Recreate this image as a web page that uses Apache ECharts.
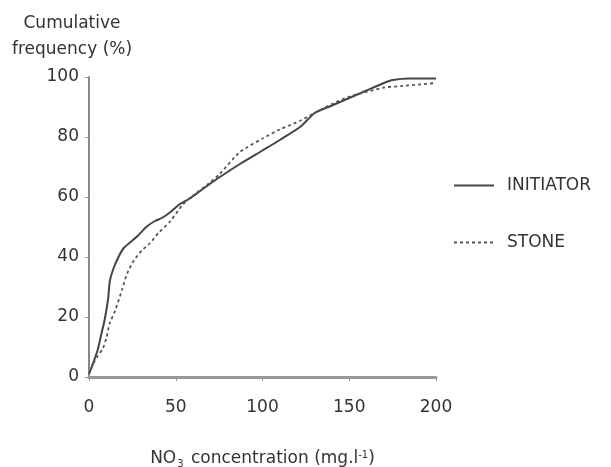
<!DOCTYPE html>
<html>
<head>
<meta charset="utf-8">
<script src="https://cdn.jsdelivr.net/npm/echarts@6/dist/echarts.min.js"></script>
<style>html,body{margin:0;padding:0;background:#fff;}#c{width:611px;height:467px;}</style>
</head>
<body>
<div id="c"></div>
<script>
const seriesNames = ['INITIATOR', 'STONE'];
const xTicks = [0, 50, 100, 150, 200];
const yTicks = [0, 20, 40, 60, 80, 100];
const initiatorX = [0, 2, 5, 7, 9, 11, 12, 14, 17, 20, 24, 28, 33, 38, 42, 47, 52, 58, 64, 70, 75, 87, 100, 110, 122, 130, 140, 150, 160, 170, 175, 185, 200];
const initiatorY = [1, 4, 9, 14, 19, 26, 32, 36, 40, 43, 45, 47, 50, 52, 53, 55, 57.5, 59.5, 62, 64.5, 66.5, 71, 75.5, 79, 83.5, 88, 90.5, 93, 95.5, 98, 99, 99.5, 99.5];
const stoneX = [0, 2.5, 5, 8, 10, 12, 15, 19, 22, 26, 31, 35, 40, 47, 54, 60, 68, 75, 87, 100, 110, 122, 130, 140, 150, 160, 170, 180, 190, 200];
const stoneY = [1, 4.5, 7, 9.5, 13, 18, 22, 29, 34.5, 39, 42.5, 44.5, 48, 52, 57.5, 60.5, 64, 67.5, 75, 79.5, 82.5, 85.5, 88, 91, 93.5, 95, 96.5, 97, 97.5, 98];

const zip = (xs, ys) => xs.map((x, i) => [x, ys[i]]);
const font = 'DejaVu Sans';
const txt = '#333';
const chart = echarts.init(document.getElementById('c'), null, {renderer: 'canvas'});
chart.setOption({
  animation: false,
  backgroundColor: '#fff',
  grid: {left: 89, right: 175, top: 77, bottom: 90, containLabel: false, outerBoundsMode: 'none'},
  legend: {
    orient: 'vertical', left: 448, top: 172, itemWidth: 40, itemHeight: 14, itemGap: 40,
    itemStyle: {opacity: 0},
    textStyle: {fontFamily: font, fontSize: 17, color: txt, padding: [0, 0, 0, 8]},
    data: seriesNames
  },
  xAxis: {
    type: 'value', min: xTicks[0], max: xTicks[xTicks.length - 1], interval: 50,
    name: '{n|NO}{sub|3}{n| concentration (mg.l}{sup|-1}{n|)}',
    nameLocation: 'middle', nameGap: 72,
    nameTextStyle: {
      rich: {
        n: {fontFamily: font, fontSize: 17, color: txt},
        sub: {fontFamily: font, fontSize: 10, color: txt, padding: [10, 2, 0, 1]},
        sup: {fontFamily: font, fontSize: 10, color: txt, padding: [0, 0, 8, 0]}
      }
    },
    axisLine: {show: true, lineStyle: {color: '#999', width: 3}},
    axisTick: {show: true, inside: false, length: 4, lineStyle: {color: '#999', width: 1}},
    axisLabel: {margin: 22, fontFamily: font, fontSize: 17, color: txt},
    splitLine: {show: false}
  },
  yAxis: {
    type: 'value', min: yTicks[0], max: yTicks[yTicks.length - 1], interval: 20,
    name: 'Cumulative\nfrequency (%)', nameLocation: 'end', nameGap: 14,
    nameTextStyle: {fontFamily: font, fontSize: 17, color: txt, lineHeight: 26, align: 'center', padding: [0, 34, 0, 0]},
    axisLine: {show: true, lineStyle: {color: '#888', width: 2}},
    axisTick: {show: true, inside: false, length: 4, lineStyle: {color: '#999', width: 1}},
    axisLabel: {margin: 10, fontFamily: font, fontSize: 17, color: txt},
    splitLine: {show: false}
  },
  series: [
    {name: seriesNames[0], type: 'line', data: zip(initiatorX, initiatorY), showSymbol: false, symbol: 'none', smooth: 0.2,
     lineStyle: {color: '#444', width: 2, type: 'solid'}, itemStyle: {color: '#444'}},
    {name: seriesNames[1], type: 'line', data: zip(stoneX, stoneY), showSymbol: false, symbol: 'none', smooth: 0.2,
     lineStyle: {color: '#555', width: 1.8, type: [3, 3]}, itemStyle: {color: '#555'}}
  ]
});
</script>
</body>
</html>
